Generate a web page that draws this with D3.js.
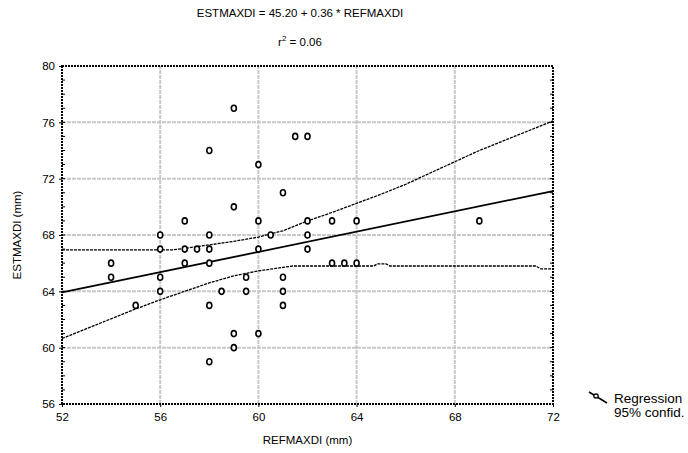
<!DOCTYPE html>
<html>
<head>
<meta charset="utf-8">
<script src="https://cdn.jsdelivr.net/npm/d3@7"></script>
<style>
  body { margin: 0; background: #fff; }
  text { font-family: "Liberation Sans", Arial, sans-serif; fill: #000; }
</style>
</head>
<body>
<svg id="chart" width="688" height="453"></svg>
<script>
// observed points (REFMAXDI, ESTMAXDI)
const refValues = [59, 58, 60, 61.5, 62, 61, 59, 57, 60, 62, 63, 64, 69, 56, 58, 60.5, 62, 56, 57, 57.5, 58, 60, 62,
                   54, 57, 58, 63, 63.5, 64, 54, 56, 59.5, 61, 56, 58.5, 59.5, 61, 55, 58, 61, 59, 60, 59, 58];
const estValues = [77, 74, 73, 75, 75, 71, 70, 69, 69, 69, 69, 69, 69, 68, 68, 68, 68, 67, 67, 67, 67, 67, 67,
                   66, 66, 66, 66, 66, 66, 65, 65, 65, 65, 64, 64, 64, 64, 63, 63, 63, 61, 61, 60, 59];

// regression line ends
const regX = [52, 72];
const regY = [63.92, 71.12];

// 95% confidence bands
const upperX = [52, 56, 56.5, 57, 58, 59, 60, 61, 62, 63, 64, 65, 66, 67, 68, 69, 70, 71, 72];
const upperY = [66.95, 66.95, 66.95, 67.05, 67.3, 67.55, 67.85, 68.3, 69.0, 69.6, 70.25, 70.9, 71.6, 72.4, 73.2, 74.0, 74.7, 75.4, 76.1];
const lowerX = [52, 53, 54, 55, 56, 57, 58, 59, 60, 61, 61.4, 64.7, 64.85, 65.2, 65.35, 71.3, 71.5, 72];
const lowerY = [60.65, 61.35, 62.05, 62.75, 63.4, 64.0, 64.6, 65.1, 65.45, 65.7, 65.8, 65.8, 65.95, 65.95, 65.8, 65.8, 65.6, 65.6];

const xTicks = [52, 56, 60, 64, 68, 72];
const yTicks = [56, 60, 64, 68, 72, 76, 80];
const titleText = "ESTMAXDI = 45.20 + 0.36 * REFMAXDI";
const legendLabels = ["Regression", "95% confid."];

const svg = d3.select("#chart");
const margin = {left: 62, right: 135, top: 66, bottom: 49};
const width = 688 - margin.left - margin.right;
const height = 453 - margin.top - margin.bottom;

const x = d3.scaleLinear().domain([52, 72]).range([margin.left, margin.left + width]);
const y = d3.scaleLinear().domain([56, 80]).range([margin.top + height, margin.top]);

// grid
const grid = svg.append("g");
grid.selectAll(".gx").data(xTicks.slice(1, -1)).join("line")
    .attr("x1", d => x(d)).attr("x2", d => x(d))
    .attr("y1", y(56)).attr("y2", y(80))
    .attr("stroke", "#c8c8c8").attr("stroke-width", 2).attr("stroke-dasharray", "4,1");
grid.selectAll(".gy").data(yTicks.slice(1, -1)).join("line")
    .attr("x1", x(52)).attr("x2", x(72))
    .attr("y1", d => y(d)).attr("y2", d => y(d))
    .attr("stroke", "#c8c8c8").attr("stroke-width", 2).attr("stroke-dasharray", "4,1");

// bands and regression
const line = d3.line().x(d => x(d[0])).y(d => y(d[1]));
svg.append("path").datum(d3.zip(upperX, upperY)).attr("d", line)
    .attr("fill", "none").attr("stroke", "#000").attr("stroke-width", 1.3).attr("stroke-dasharray", "3,1");
svg.append("path").datum(d3.zip(lowerX, lowerY)).attr("d", line)
    .attr("fill", "none").attr("stroke", "#000").attr("stroke-width", 1.3).attr("stroke-dasharray", "3,1");
svg.append("path").datum(d3.zip(regX, regY)).attr("d", line)
    .attr("fill", "none").attr("stroke", "#000").attr("stroke-width", 1.8);

// points
svg.append("g").selectAll("ellipse").data(d3.zip(refValues, estValues)).join("ellipse")
    .attr("cx", d => x(d[0])).attr("cy", d => y(d[1]))
    .attr("rx", 2.5).attr("ry", 3)
    .attr("fill", "#fff").attr("stroke", "#000").attr("stroke-width", 1.6);

// frame
svg.append("rect")
    .attr("x", x(52)).attr("y", y(80)).attr("width", width).attr("height", height)
    .attr("fill", "none").attr("stroke", "#000").attr("stroke-width", 2).attr("stroke-dasharray", "2,1");

// minor ticks on y, inward
const minorY = d3.range(57, 80);
svg.append("g").selectAll("line").data(minorY).join("line")
    .attr("x1", x(52)).attr("x2", x(52) + 3).attr("y1", d => y(d)).attr("y2", d => y(d))
    .attr("stroke", "#000").attr("stroke-width", 1);
svg.append("g").selectAll("line").data(minorY).join("line")
    .attr("x1", x(72)).attr("x2", x(72) - 3).attr("y1", d => y(d)).attr("y2", d => y(d))
    .attr("stroke", "#000").attr("stroke-width", 1);

// axes
const xAxis = d3.axisBottom(x).tickValues(xTicks).tickSize(3).tickPadding(6).tickFormat(d3.format("d"));
const gx = svg.append("g").attr("transform", `translate(0,${y(56)})`).call(xAxis);
gx.select(".domain").remove();
gx.selectAll("text").attr("font-size", "11.5px").attr("font-family", "Liberation Sans, Arial, sans-serif");

const yAxis = d3.axisLeft(y).tickValues(yTicks).tickSize(3).tickPadding(4).tickFormat(d3.format("d"));
const gy = svg.append("g").attr("transform", `translate(${x(52)},0)`).call(yAxis);
gy.select(".domain").remove();
gy.selectAll("text").attr("font-size", "11.5px").attr("font-family", "Liberation Sans, Arial, sans-serif");

// axis titles
svg.append("text").attr("x", margin.left + width / 2).attr("y", 444)
    .attr("text-anchor", "middle").attr("font-size", "11.5px").text("REFMAXDI (mm)");
svg.append("text").attr("transform", `translate(21,${margin.top + height / 2}) rotate(-90)`)
    .attr("text-anchor", "middle").attr("font-size", "11.5px").text("ESTMAXDI (mm)");

// header
svg.append("text").attr("x", 300).attr("y", 17)
    .attr("text-anchor", "middle").attr("font-size", "11.5px").text(titleText);
const r2 = svg.append("text").attr("x", 300).attr("y", 46)
    .attr("text-anchor", "middle").attr("font-size", "11.5px");
r2.append("tspan").text("r");
r2.append("tspan").attr("dy", -5).attr("font-size", "8px").text("2");
r2.append("tspan").attr("dy", 5).text(" = 0.06");

// legend
const legend = svg.append("g");
legend.append("line").attr("x1", 589).attr("y1", 392).attr("x2", 607).attr("y2", 403)
    .attr("stroke", "#000").attr("stroke-width", 1.5);
legend.append("ellipse").attr("cx", 596).attr("cy", 396).attr("rx", 2.2).attr("ry", 2)
    .attr("fill", "#fff").attr("stroke", "#000").attr("stroke-width", 1.3);
legend.selectAll("text.lg").data(legendLabels).join("text")
    .attr("x", 614).attr("y", (d, i) => 403 + i * 14)
    .attr("font-size", "13.5px").text(d => d);
</script>
</body>
</html>
